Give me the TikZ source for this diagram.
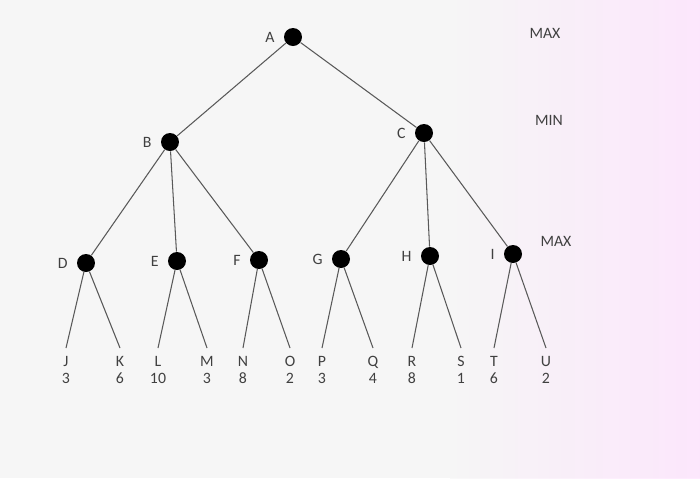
\documentclass[tikz,border=0pt]{standalone}
\usepackage{fontspec}
\setmainfont{Carlito}
\usetikzlibrary{positioning}
\begin{document}
\begin{tikzpicture}[x=0.02cm,y=-0.02cm,
  dot/.style={circle,fill=black,inner sep=0pt,minimum size=0.36cm},
  lbl/.style={font=\small,text=black!75,inner sep=1pt},
  edge/.style={draw=black!65,line width=0.6pt},
  leaf/.style={font=\small,text=black!75,align=center,inner sep=1pt}]
\useasboundingbox[fill=white!93!gray] (0,0) rectangle (700,478);
\shade[left color=white!93!gray,right color=magenta!12!white,opacity=0.7] (450,0) rectangle (700,478);
\node[dot] (A) at (293,37) {};
\node[dot] (B) at (170,142) {};
\node[dot] (C) at (424,133) {};
\node[dot] (D) at (86,263) {};
\node[dot] (E) at (177,261) {};
\node[dot] (F) at (259,260) {};
\node[dot] (G) at (341,259) {};
\node[dot] (H) at (430,256) {};
\node[dot] (I) at (513,254) {};
\foreach \n in {A,B,C,D,E,F,G,H,I}{\node[lbl,left=4pt of \n] (l\n) {\n};}
\node[lbl] (max1) at (545,33) {MAX};
\node[lbl] (min1) at (549,120) {MIN};
\node[lbl] (max2) at (556,241) {MAX};
\foreach \p/\c in {A/B,A/C,B/D,B/E,B/F,C/G,C/H,C/I}{\draw[edge] (\p) -- (\c);}
\foreach \p/\l/\x/\v in {D/J/66/3,D/K/120/6,E/L/158/10,E/M/207/3,F/N/243/8,F/O/290/2,G/P/322/3,G/Q/373/4,H/R/412/8,H/S/461/1,I/T/494/6,I/U/546/2}{
  \coordinate (e\l) at (\x,348);
  \draw[edge] (\p) -- (e\l);
  \node[leaf,anchor=north] (n\l) at (\x,354) {\l\\[-1pt]\v};
}
\end{tikzpicture}
\end{document}
